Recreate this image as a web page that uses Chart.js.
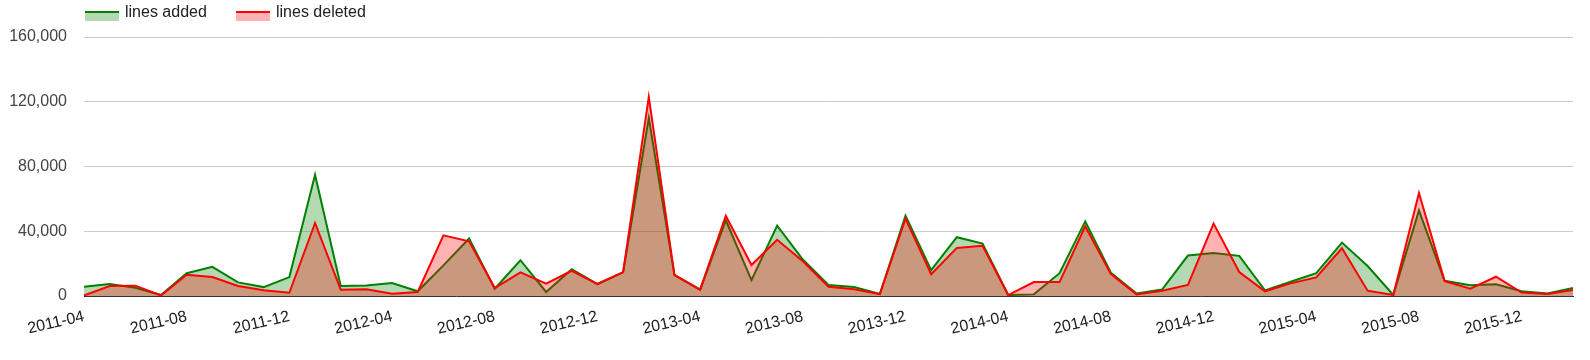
<!DOCTYPE html>
<html lang="en">
<head>
    <meta charset="UTF-8">
    <title>Lines added / deleted per month</title>
    <script src="https://cdn.jsdelivr.net/npm/chart.js"></script>
    <style>
        body { margin: 0; font-family: Arial, "Liberation Sans", sans-serif; background: #fff; }
        #wrap { position: relative; width: 1590px; height: 360px; }
        #legend { position: absolute; top: 0; left: 0; height: 30px; width: 600px; }
        .box { position: absolute; top: 11px; width: 34px; height: 8px; }
        .txt { position: absolute; top: 3px; font-size: 16px; color: #222; line-height: 18px; white-space: nowrap; }
    </style>
</head>
<body>
<div id="wrap">
    <canvas id="chart" width="1590" height="360"></canvas>
    <div id="legend">
        <div class="box" style="left:85px; border-top:2px solid #008000; background:rgba(0,128,0,0.3)"></div>
        <div class="txt" style="left:125px">lines added</div>
        <div class="box" style="left:236px; border-top:2px solid #ff0000; background:rgba(255,0,0,0.3)"></div>
        <div class="txt" style="left:276px">lines deleted</div>
    </div>
</div>
<script>
    const months = [
        "2011-04", "2011-05", "2011-06", "2011-07", "2011-08", "2011-09", "2011-10", "2011-11", "2011-12",
        "2012-01", "2012-02", "2012-03", "2012-04", "2012-05", "2012-06", "2012-07", "2012-08", "2012-09", "2012-10", "2012-11", "2012-12",
        "2013-01", "2013-02", "2013-03", "2013-04", "2013-05", "2013-06", "2013-07", "2013-08", "2013-09", "2013-10", "2013-11", "2013-12",
        "2014-01", "2014-02", "2014-03", "2014-04", "2014-05", "2014-06", "2014-07", "2014-08", "2014-09", "2014-10", "2014-11", "2014-12",
        "2015-01", "2015-02", "2015-03", "2015-04", "2015-05", "2015-06", "2015-07", "2015-08", "2015-09", "2015-10", "2015-11", "2015-12",
        "2016-01", "2016-02"
    ];

    const linesAdded = [
        5700, 7400, 5100, 600, 14100, 18000, 8400, 5500, 11700,
        74900, 6150, 6560, 8000, 2900, 18900, 35500, 4500, 22100, 2500, 16600, 7400,
        14600, 110000, 13100, 3900, 46800, 9800, 43500, 22500, 6800, 5600, 1200, 49600,
        16000, 36300, 32400, 600, 1000, 14100, 46100, 14400, 1600, 4100, 25000, 26500,
        24800, 3500, 8800, 14100, 33000, 18500, 600, 52900, 9400, 6600, 7200, 2900,
        1600, 4900
    ];

    const linesDeleted = [
        300, 6200, 6400, 300, 13100, 11700, 6200, 3500, 2000,
        45100, 3900, 4100, 1400, 2500, 37500, 33800, 4900, 14600, 7600, 15600, 7400,
        14800, 123000, 12900, 3900, 49600, 19100, 34700, 21500, 5700, 4100, 1200, 47800,
        13500, 29700, 31000, 600, 8600, 8600, 43100, 13500, 1000, 3300, 6800, 44700,
        14800, 2900, 7800, 11500, 29500, 3300, 600, 63600, 9200, 4500, 11900, 2100,
        1200, 3700
    ];

    const yTicks = [0, 40000, 80000, 120000, 160000];

    Chart.defaults.font.family = 'Arial, "Liberation Sans", sans-serif';
    Chart.defaults.font.size = 16;

    new Chart(document.getElementById("chart").getContext("2d"), {
        type: "line",
        data: {
            labels: months,
            datasets: [
                {
                    label: "lines added",
                    data: linesAdded,
                    borderColor: "#008000",
                    backgroundColor: "rgba(0,128,0,0.3)",
                    borderWidth: 2,
                    fill: "origin",
                    pointRadius: 0,
                    tension: 0,
                    order: 2
                },
                {
                    label: "lines deleted",
                    data: linesDeleted,
                    borderColor: "#ff0000",
                    backgroundColor: "rgba(255,0,0,0.3)",
                    borderWidth: 2,
                    fill: "origin",
                    pointRadius: 0,
                    tension: 0,
                    order: 1
                }
            ]
        },
        options: {
            responsive: false,
            animation: false,
            layout: { padding: { top: 37, right: 17, left: 0, bottom: 0 } },
            plugins: {
                legend: { display: false },
                tooltip: { enabled: false }
            },
            scales: {
                x: {
                    grid: { display: false, drawTicks: false },
                    border: { display: true, color: "#333", width: 1 },
                    ticks: {
                        autoSkip: false,
                        minRotation: 13,
                        maxRotation: 13,
                        padding: 11,
                        color: "#222",
                        callback: function (value, index) {
                            return index % 4 === 0 ? this.getLabelForValue(value) : "";
                        }
                    },
                    afterFit: function (scale) { scale.height = 64; }
                },
                y: {
                    min: 0,
                    max: 160000,
                    afterBuildTicks: function (scale) {
                        scale.ticks = yTicks.map(v => ({ value: v }));
                    },
                    grid: { color: "#cccccc", drawTicks: false },
                    border: { display: false },
                    ticks: {
                        padding: 17,
                        color: "#444",
                        callback: v => v.toLocaleString("en-US")
                    },
                    afterFit: function (scale) { scale.width = 84; }
                }
            }
        }
    });
</script>
</body>
</html>
